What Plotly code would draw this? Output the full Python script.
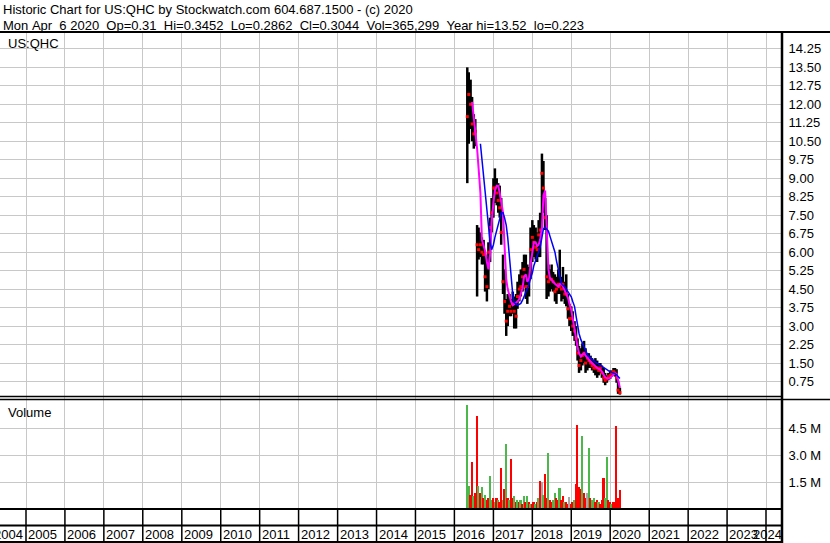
import plotly.graph_objects as go
import pandas as pd
from datetime import datetime

W, H = 830, 543


def px(x):
    return x / W


def py(y):
    return 1 - y / H


# ---------------- data ----------------
dates = pd.date_range("2016-05-01", "2020-04-01", freq="SMS")  # half-month periods

high = [13.5, 13.3, 13.0, 12.3, 11.6, 11.4, 7.1, 7.0, 6.8, 6.6, 6.5, 5.9, 5.8, 6.4, 7.4, 8.2,
        9.0, 9.4, 9.0, 8.8, 8.7, 8.2, 5.9, 5.3, 4.1, 4.3, 4.3, 4.1, 4.4, 4.2, 4.3, 4.8, 5.1, 5.3, 5.6, 5.9, 5.9, 5.5, 5.4, 7.0,
        7.3, 7.1, 7.0, 6.8, 7.3, 7.6, 10.0, 9.7, 8.2, 7.5, 5.5, 5.3, 5.5, 5.2, 5.1, 5.0, 5.3, 6.1, 5.0, 5.4, 4.8, 5.1, 4.3, 3.9,
        3.8, 3.6, 3.2, 3.0, 2.5, 2.2, 2.1, 2.3, 2.4, 2.1, 1.9, 1.9, 1.8, 1.7, 1.6, 1.7, 1.6, 1.5, 1.5, 1.4, 1.3, 1.1, 1.0, 1.1,
        1.2, 1.2, 1.3, 1.3, 1.25, 0.75, 0.5]
low = [8.8, 10.4, 11.0, 10.5, 10.2, 10.3, 4.2, 5.7, 5.8, 5.5, 5.5, 4.4, 4.0, 4.5, 5.6, 6.8,
       7.4, 8.0, 7.9, 7.6, 7.4, 6.3, 4.3, 3.5, 2.6, 3.0, 3.4, 3.4, 3.5, 2.9, 2.9, 3.7, 4.0, 4.2, 4.4, 4.6, 4.1, 3.9, 4.2, 4.9,
       5.6, 5.8, 5.7, 5.6, 5.8, 5.8, 7.0, 7.6, 6.9, 4.1, 4.2, 4.4, 4.5, 4.4, 4.0, 3.9, 4.3, 4.3, 4.0, 4.1, 3.9, 3.8, 3.3, 3.0,
       2.8, 2.6, 2.4, 2.2, 1.6, 1.1, 1.2, 1.4, 1.5, 1.1, 1.2, 1.3, 1.3, 1.2, 1.1, 1.0, 0.9, 1.0, 1.1, 0.9, 0.7, 0.6, 0.7, 0.8,
       0.85, 0.95, 1.0, 0.95, 0.7, 0.25, 0.22]
close = [11.5, 12.4, 12.0, 11.2, 10.8, 10.9, 6.3, 6.1, 6.3, 6.0, 5.9, 5.0, 4.6, 6.0, 7.0, 7.6,
         8.6, 8.6, 8.4, 8.1, 7.8, 6.8, 4.8, 4.0, 3.2, 3.6, 3.8, 3.6, 3.9, 3.6, 3.4, 4.2, 4.5, 4.6, 5.0, 5.3, 4.6, 4.6, 4.9, 6.1,
         6.6, 6.4, 6.2, 6.1, 6.7, 6.9, 9.2, 8.6, 7.4, 5.0, 4.8, 4.9, 4.9, 4.8, 4.4, 4.5, 4.7, 4.6, 4.5, 4.7, 4.3, 4.3, 3.7, 3.3,
         3.3, 3.0, 2.8, 2.5, 1.9, 1.4, 1.6, 1.8, 1.9, 1.5, 1.7, 1.6, 1.5, 1.4, 1.3, 1.3, 1.3, 1.2, 1.3, 1.1, 0.9, 0.8, 0.85, 0.95,
         1.0, 1.1, 1.15, 1.1, 0.9, 0.4, 0.30]
ma_short = [None, None, None, 12.1, 11.5, 10.9, 10.2, 9.4, 8.4, 6.5, 6.3, 6.05, 5.6, 5.3, 5.9, 7.2,
            8.0, 8.5, 8.7, 8.7, 8.4, 8.05, 7.6, 6.3, 4.9, 4.5, 4.2, 4.0, 3.85, 3.9, 3.95, 4.0, 4.1, 4.35, 4.55, 5.0, 5.1, 4.8, 4.9, 5.5,
            6.0, 6.4, 6.4, 6.25, 6.3, 6.5, 7.0, 8.3, 8.5, 6.9, 5.3, 4.95, 4.85, 4.8, 4.72, 4.65, 4.6, 4.7, 4.72, 4.6, 4.45, 4.3, 4.15, 3.9,
            3.65, 3.3, 2.84, 2.5, 2.15, 1.9, 1.76, 1.85, 1.9, 1.8, 1.7, 1.62, 1.56, 1.5, 1.42, 1.36, 1.3, 1.27, 1.23, 1.15, 1.02, 0.92, 0.88, 0.87,
            0.9, 0.98, 1.03, 1.07, 1.05, 0.8, 0.5]
ma_long = [None, None, None, None, None, None, None, None, 10.4, 9.8, 9.0, 8.3, 7.6, 7.0, 6.4, 6.1,
           6.3, 6.6, 6.85, 7.1, 7.35, 7.6, 7.6, 7.4, 7.1, 6.6, 5.7, 4.9, 4.3, 3.95, 3.88, 3.85, 3.88, 3.92, 4.05, 4.2, 4.3, 4.45, 4.7, 4.95,
           5.15, 5.45, 5.65, 5.85, 6.0, 6.2, 6.6, 6.95, 7.0, 6.95, 6.85, 6.65, 6.45, 6.25, 6.0, 5.65, 5.3, 5.0, 4.72, 4.65, 4.6, 4.5, 4.4, 4.3,
           4.19, 4.0, 3.79, 3.4, 3.0, 2.7, 2.45, 2.3, 2.18, 2.0, 1.85, 1.77, 1.7, 1.64, 1.58, 1.54, 1.5, 1.46, 1.4, 1.36, 1.31, 1.27, 1.21, 1.17,
           1.14, 1.12, 1.1, 1.07, 1.02, 0.95, 0.87]
volume_m = [5.8, 1.3, 0.8, 2.6, 0.7, 0.9, 5.2, 1.3, 0.9, 1.2, 0.6, 0.8, 0.5, 0.6, 1.85, 0.5,
            0.6, 0.4, 0.6, 0.5, 0.4, 2.3, 0.5, 1.1, 3.6, 0.6, 0.5, 2.8, 0.6, 0.7, 0.4, 0.5, 0.4, 0.5, 0.3, 0.7, 0.4, 0.7, 0.4, 0.3,
            0.3, 0.4, 0.3, 0.4, 0.6, 1.55, 1.5, 0.8, 1.95, 0.6, 3.1, 0.5, 0.4, 0.5, 0.9, 0.6, 0.5, 1.15, 0.5, 0.7, 0.4, 0.4, 0.3, 0.65,
            0.3, 0.4, 0.5, 1.4, 4.7, 1.2, 1.1, 4.05, 0.9, 0.6, 0.9, 3.4, 0.6, 0.5, 0.6, 0.4, 0.5, 0.4, 0.3, 0.5, 1.75, 0.6, 2.9, 0.5,
            0.4, 0.3, 0.4, 0.4, 4.65, 0.6, 1.05]
volume_dir = list("ggrrgrrgrgrgrrgg"
                  "rgrgrrgrgrgrrgrgrgrgrgrg"
                  "rrgrgrxgrrgrrggrrgrrgrrx"
                  "rrgrrrrgrrxgrggrrgrrrggr"
                  "rgrrrrr")

price_ticks = [0.75, 1.5, 2.25, 3.0, 3.75, 4.5, 5.25, 6.0, 6.75, 7.5, 8.25, 9.0,
               9.75, 10.5, 11.25, 12.0, 12.75, 13.5, 14.25]
volume_ticks = [1.5, 3.0, 4.5]
years = list(range(2004, 2025))

assert len(dates) == len(high) == len(low) == len(close) == len(ma_short) == len(ma_long) == len(volume_m) == len(volume_dir)

# ---------------- figure ----------------
FONT = "Arial, Liberation Sans, sans-serif"
GRID = "#c8c8c8"
dir_colors = {"g": "#4cb84c", "r": "#ff0000", "x": "#a8a8a8"}

bx, by = [], []
for d, h, l in zip(dates, high, low):
    bx += [d, d, None]
    by += [l, h, None]

fig = go.Figure()
fig.add_trace(go.Scatter(x=bx, y=by, mode="lines", line=dict(color="black", width=2.5),
                         hoverinfo="skip", xaxis="x", yaxis="y"))
fig.add_trace(go.Scatter(x=dates, y=close, mode="markers",
                         marker=dict(symbol="square", size=3, color="red", line=dict(width=0)),
                         xaxis="x", yaxis="y"))
fig.add_trace(go.Scatter(x=dates, y=ma_short, mode="lines", line=dict(color="#ff00ff", width=2),
                         xaxis="x", yaxis="y"))
fig.add_trace(go.Scatter(x=dates, y=ma_long, mode="lines", line=dict(color="#0000ff", width=1.5),
                         xaxis="x", yaxis="y"))
fig.add_trace(go.Bar(x=dates, y=volume_m, marker=dict(color=[dir_colors[c] for c in volume_dir], line=dict(width=0)),
                     width=16 * 86400000, xaxis="x2", yaxis="y2"))

# x range so that year boundaries land where the reference has them
x0 = datetime(2005, 1, 1)
x1 = datetime(2024, 1, 1)
per_px = (x1 - x0) / 740
xr = [x0 - per_px * 26, x0 + per_px * (782 - 26)]

xax = dict(type="date", range=xr, domain=[0, px(782)], tick0="2005-01-01", dtick="M12",
           showgrid=True, gridcolor=GRID, gridwidth=1, showticklabels=False, ticks="",
           zeroline=False, showline=False, fixedrange=True)

annotations = []
hdr1 = "Historic Chart for US:QHC by Stockwatch.com 604.687.1500 - (c) 2020"
hdr2 = "Mon Apr  6 2020  Op=0.31  Hi=0.3452  Lo=0.2862  Cl=0.3044  Vol=365,299  Year hi=13.52  lo=0.223"
for txt, yy in [(hdr1, 0), (hdr2, 16)]:
    annotations.append(dict(text=txt.replace(" ", "\u00a0"), xref="paper", yref="paper", x=px(1), y=py(yy),
                            xanchor="left", yanchor="top", showarrow=False,
                            font=dict(family=FONT, size=13, color="black")))
annotations.append(dict(text="US:QHC", xref="paper", yref="paper", x=px(6), y=py(43), xanchor="left",
                        yanchor="middle", showarrow=False, font=dict(family=FONT, size=13, color="black")))
annotations.append(dict(text="Volume", xref="paper", yref="paper", x=px(6), y=py(413), xanchor="left",
                        yanchor="middle", showarrow=False, font=dict(family=FONT, size=13, color="black")))
for yr in years:
    if yr == years[0]:
        a = dict(xref="paper", x=px(-8), xanchor="left")
    elif yr == years[-1]:
        a = dict(xref="paper", x=px(784), xanchor="right")
    else:
        a = dict(xref="x", x=f"{yr}-01-01", xanchor="left", xshift=0)
    a.update(text=str(yr), yref="paper", y=py(534.5), yanchor="middle", showarrow=False,
             font=dict(family=FONT, size=13, color="black"))
    annotations.append(a)

shapes = []


def hline(y, xa, xb, w=2):
    shapes.append(dict(type="line", xref="paper", yref="paper", x0=px(xa), x1=px(xb), y0=py(y), y1=py(y),
                       line=dict(color="black", width=w)))


def vline(x, ya, yb, w=2, ref="paper"):
    shapes.append(dict(type="line", xref=ref, yref="paper", x0=x, x1=x, y0=py(ya), y1=py(yb),
                       line=dict(color="black", width=w)))


hline(32, 0, W)
hline(396.5, 0, 782, 1.5)
hline(399.5, 0, W, 1.5)
hline(509, 0, 782)
hline(525.5, 0, 782)
hline(542, 0, 782)
vline(px(782), 32, H, 2.5)
for yr in years[1:]:
    vline(f"{yr}-01-01", 509, 542, 1.5, ref="x")

fig.update_layout(
    width=W, height=H, margin=dict(l=0, r=0, t=0, b=0), autosize=False,
    paper_bgcolor="white", plot_bgcolor="white", showlegend=False, bargap=0,
    xaxis=dict(xax, anchor="y"),
    xaxis2=dict(xax, anchor="y2", matches="x"),
    yaxis=dict(domain=[py(400), py(33)], range=[0, 14.894], side="right", anchor="x",
               tickvals=price_ticks, ticktext=[f"{v:.2f}" for v in price_ticks],
               showgrid=True, gridcolor=GRID, gridwidth=1, zeroline=False, showline=False,
               ticks="outside", ticklen=3, tickcolor="rgba(0,0,0,0)",
               tickfont=dict(family=FONT, size=13, color="black"), fixedrange=True),
    yaxis2=dict(domain=[py(509), py(400)], range=[0, 6.08], side="right", anchor="x2",
                tickvals=volume_ticks, ticktext=[f"{v:.1f} M" for v in volume_ticks],
                showgrid=True, gridcolor=GRID, gridwidth=1, zeroline=False, showline=False,
                ticks="outside", ticklen=3, tickcolor="rgba(0,0,0,0)",
                tickfont=dict(family=FONT, size=13, color="black"), fixedrange=True),
    annotations=annotations, shapes=shapes,
)

fig.write_html("out.html", config={"displayModeBar": False},
               post_script="document.body.style.margin='0';document.body.style.overflow='hidden';")
